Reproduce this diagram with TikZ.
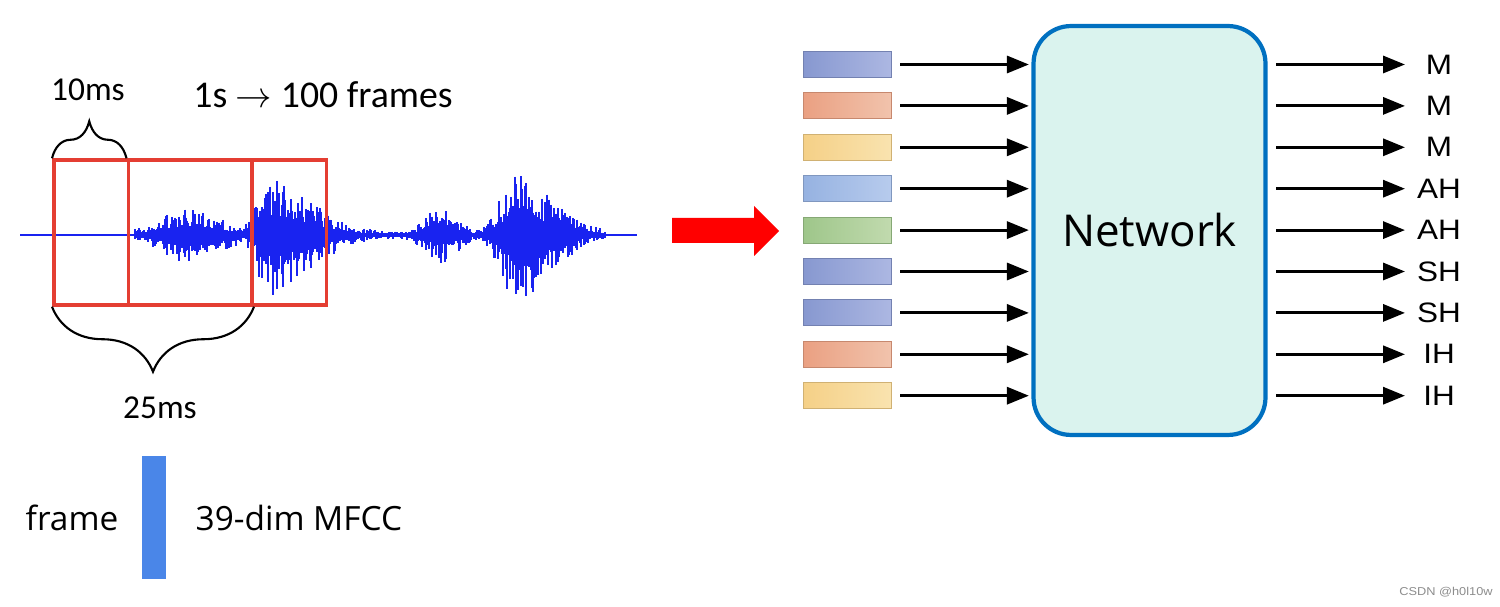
\documentclass[tikz,border=0pt]{standalone}
\usepackage{fontspec}
\setmainfont{Open Sans}
\newfontfamily\carlito{Carlito}
\newfontfamily\phonefont[FakeStretch=1.12]{Liberation Sans}
\usepackage{tikz}
\usetikzlibrary{arrows.meta,positioning,decorations.pathreplacing}

\definecolor{wave}{RGB}{25,35,240}
\definecolor{frred}{RGB}{228,62,50}
\definecolor{netblue}{RGB}{0,112,192}
\definecolor{netfill}{RGB}{218,243,238}
\definecolor{mfccblue}{RGB}{74,134,232}
\definecolor{bluL}{RGB}{135,152,208}
\definecolor{bluR}{RGB}{172,183,226}
\definecolor{orgL}{RGB}{234,160,130}
\definecolor{orgR}{RGB}{241,195,172}
\definecolor{yelL}{RGB}{245,208,135}
\definecolor{yelR}{RGB}{249,227,175}
\definecolor{lblL}{RGB}{150,178,225}
\definecolor{lblR}{RGB}{183,203,237}
\definecolor{grnL}{RGB}{158,198,138}
\definecolor{grnR}{RGB}{193,218,174}

\begin{document}
\begin{tikzpicture}[x=0.02cm,y=-0.02cm,
    declare function={gg(\xa,\xc,\wa,\wb)=exp(-min(9,((\xa-\xc)/(\wa*(\xa<\xc)+\wb*(\xa>=\xc)))^2));
      env(\xa)=3.5+24*gg(\xa,190,38,40)+54*gg(\xa,268,14,58)+24*gg(\xa,440,20,22)+58*gg(\xa,515,20,50);},
    frm/.style={draw=frred,line width=2pt,minimum width=3.97cm,minimum height=2.9cm},
    brc/.style={decorate,decoration={brace,amplitude=#1},line width=1.2pt},
    bar/.style={left color=#1L,right color=#1R,draw=#1L!85!black,line width=0.5pt,
      minimum width=1.76cm,minimum height=0.52cm,inner sep=0},
    arr/.style={-{Triangle[length=0.44cm,width=0.34cm]},line width=1.8pt},
    lbl/.style={font=\phonefont\fontsize{16}{18}\selectfont,inner sep=0}]
  \useasboundingbox (0,0) rectangle (1500,607);

  % waveform
  \draw[wave,line width=0.6pt] (20,235) -- (637,235);
  \pgfmathsetseed{11}
  \foreach \x in {135,136,...,605}{
    \pgfmathsetmacro\e{env(\x)}
    \draw[wave,line width=0.6pt] (\x,{235-\e*(0.3+0.7*rnd^2)}) -- (\x,{235+1.05*\e*(0.3+0.7*rnd^2)});
  }

  % frames
  \node[frm] (f1) at (153,232.5) {};
  \node[frm] (f2) at (227.5,232.5) {};
  \draw[brc=0.74cm] (f1.north west) -- (f2.north west);
  \draw[brc=1.3cm] (f1.south east) -- (f1.south west);
  \node[font=\carlito\fontsize{19}{22}\selectfont] (shift) at (88,90) {10ms};
  \node[font=\carlito\fontsize{19}{22}\selectfont] (len) at (160,408) {25ms};
  \node[font=\carlito\fontsize{21.5}{25}\selectfont] (rate) at (323,95) {1s $\rightarrow$ 100 frames};

  \node[fill=mfccblue,minimum width=0.48cm,minimum height=2.46cm,inner sep=0] (mfcc) at (154,517.5) {};
  \node[font=\fontsize{19}{22}\selectfont,inner sep=0,left=0.46cm of mfcc] (frmtxt) {frame};
  \node[font=\fontsize{19}{22}\selectfont,inner sep=0,right=0.58cm of mfcc] (dim) {39-dim MFCC};

  \fill[red] (672,218) -- (754,218) -- (754,206) -- (779,231) -- (754,256) -- (754,243) -- (672,243) -- cycle;

  % network
  \node[draw=netblue,fill=netfill,line width=2.4pt,rounded corners=0.75cm,
    minimum width=4.64cm,minimum height=8.18cm,font=\fontsize{25}{30}\selectfont] (net) at (1149.5,230.5) {Network};

  \foreach \c [count=\i, evaluate=\i as \y using 64.5+41.4*(\i-1)] in {blu,org,yel,lbl,grn,blu,blu,org,yel}{
    \node[bar=\c] (in\i) at (847,\y) {};
    \draw[arr,shorten <=0.18cm,shorten >=0.05cm] (in\i) -- (in\i -| net.west);
  }
  \foreach \p [count=\i, evaluate=\i as \y using 64.5+41.4*(\i-1)] in {M,M,M,AH,AH,SH,SH,IH,IH}{
    \coordinate (tip\i) at (1405,\y);
    \node[lbl] (out\i) at (1439,\y) {\p};
    \draw[arr,shorten <=0.17cm] (net.east |- tip\i) -- (tip\i);
  }

  \node[font=\phonefont\fontsize{6.5}{8}\selectfont,text=black!45] (mark) at (1446,592) {CSDN @h0l10w};
\end{tikzpicture}
\end{document}
